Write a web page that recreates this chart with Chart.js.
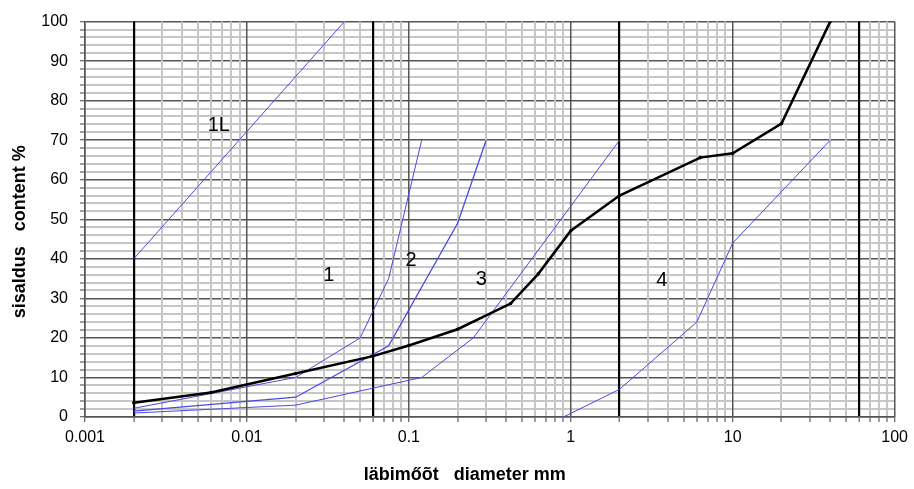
<!DOCTYPE html>
<html>
<head>
<meta charset="utf-8">
<script src="https://cdn.jsdelivr.net/npm/chart.js@4/dist/chart.umd.min.js"></script>
<style>
  html, body { margin: 0; padding: 0; background: #ffffff; }
  #wrap { width: 914px; height: 489px; }
</style>
</head>
<body>
<div id="wrap"><canvas id="c" width="914" height="489"></canvas></div>
<script>
// ---------------- data ----------------
const curveDiameter = [0.002, 0.006, 0.02, 0.06, 0.1, 0.2, 0.425, 0.63, 1, 2, 6.3, 10, 20, 40];
const curvePassing  = [3.6, 6.2, 11, 15.4, 18.1, 22.2, 28.7, 36.2, 47.1, 56, 65.6, 66.7, 74.2, 100];

const line1LDiameter = [0.002, 0.04];
const line1LPassing  = [40, 100];

const bound1Diameter = [0.002, 0.02, 0.05, 0.075, 0.12];
const bound1Passing  = [2.2, 10, 20, 35, 70];

const bound2Diameter = [0.002, 0.02, 0.075, 0.2, 0.3];
const bound2Passing  = [1.5, 5, 18, 49, 70];

const bound3Diameter = [0.002, 0.02, 0.12, 0.25, 2];
const bound3Passing  = [1.0, 3, 10, 20, 70];

const bound4Diameter = [0.9, 2, 6, 10, 40];
const bound4Passing  = [0, 7, 24, 44, 70];

const zoneLabels   = ['1L', '1', '2', '3', '4'];
const zoneLabelX   = [0.0067, 0.032, 0.103, 0.28, 3.65];
const zoneLabelY   = [73.8, 35.7, 39.5, 34.7, 34.5];

const xDecades     = [0.001, 0.01, 0.1, 1, 10, 100];
const xTickLabels  = ['0.001', '0.01', '0.1', '1', '10', '100'];
const xBoundaries  = [0.002, 0.06, 2, 60];
const yMajorStep   = 10;
const yMinorStep   = 2;

const xTitle = 'läbimőõt   diameter mm';
const yTitle = 'sisaldus   content %';

// ---------------- helpers ----------------
function pts(xs, ys) { return xs.map((x, i) => ({ x: x, y: ys[i] })); }
function near(a, b) { return Math.abs(Math.log10(a) - Math.log10(b)) < 1e-6; }
function isDecade(v) { return xDecades.some(d => near(d, v)); }
function isBoundary(v) { return xBoundaries.some(d => near(d, v)); }

// grid values 1..9 x 10^k between the decades
const xGridValues = [];
for (let k = 0; k < xDecades.length - 1; k++) {
  for (let m = 1; m <= 9; m++) xGridValues.push(+(m * xDecades[k]).toPrecision(6));
}
xGridValues.push(xDecades[xDecades.length - 1]);

const FONT = "'Liberation Sans', Arial, sans-serif";
const BLUE = '#4a4ae0';
const MINOR = '#c6c6c6';
const MAJOR = '#555555';

const zoneLabelPlugin = {
  id: 'zoneLabels',
  afterDatasetsDraw(chart) {
    const { ctx, scales } = chart;
    ctx.save();
    ctx.fillStyle = '#000';
    ctx.font = '20px ' + FONT;
    ctx.textAlign = 'center';
    ctx.textBaseline = 'middle';
    zoneLabels.forEach((t, i) => {
      ctx.fillText(t, scales.x.getPixelForValue(zoneLabelX[i]), scales.y.getPixelForValue(zoneLabelY[i]));
    });
    ctx.restore();
  }
};

const blueSet = (label, xs, ys, w) => ({
  label: label,
  data: pts(xs, ys),
  borderColor: BLUE,
  borderWidth: w,
  pointRadius: 0,
  fill: false,
  tension: 0,
  order: 2
});

new Chart(document.getElementById('c'), {
  type: 'line',
  data: {
    datasets: [
      blueSet('1L', line1LDiameter, line1LPassing, 1),
      blueSet('1', bound1Diameter, bound1Passing, 1),
      blueSet('2', bound2Diameter, bound2Passing, 1.3),
      blueSet('3', bound3Diameter, bound3Passing, 1),
      blueSet('4', bound4Diameter, bound4Passing, 1),
      {
        label: 'curve',
        data: pts(curveDiameter, curvePassing),
        borderColor: '#000',
        backgroundColor: '#000',
        borderWidth: 2.5,
        pointRadius: 1.8,
        pointBorderWidth: 0,
        pointStyle: 'circle',
        fill: false,
        tension: 0,
        order: 1
      }
    ]
  },
  options: {
    responsive: false,
    animation: false,
    devicePixelRatio: 1,
    layout: { padding: { top: 17, right: 15, left: 0, bottom: 0 } },
    plugins: {
      legend: { display: false },
      tooltip: { enabled: false },
      title: { display: false }
    },
    scales: {
      y: {
        type: 'linear',
        position: 'left',
        min: 0,
        max: 100,
        afterFit: s => { s.width = 85; },
        ticks: {
          stepSize: yMinorStep,
          autoSkip: false,
          padding: 12,
          color: '#000',
          font: { family: FONT, size: 16 },
          callback: v => (v % yMajorStep === 0 ? String(v) : '')
        },
        grid: {
          z: -1,
          color: c => (c.tick && c.tick.value % yMajorStep === 0 ? MAJOR : MINOR),
          lineWidth: c => (c.tick && c.tick.value % yMajorStep === 0 ? 1.5 : 2),
          tickLength: 5,
          tickColor: '#404040',
          tickWidth: 1
        },
        border: { color: MAJOR, width: 1.5 },
        title: {
          display: true,
          text: yTitle + '     ',
          color: '#000',
          font: { family: FONT, size: 18, weight: 'bold' },
          padding: { top: 9, bottom: 0 }
        }
      },
      x: {
        type: 'logarithmic',
        position: 'bottom',
        min: 0.001,
        max: 100,
        afterFit: s => { s.height = 72; },
        afterBuildTicks: s => { s.ticks = xGridValues.map(v => ({ value: v, major: isDecade(v) })); },
        ticks: {
          autoSkip: false,
          maxRotation: 0,
          minRotation: 0,
          padding: 6,
          color: '#000',
          font: { family: FONT, size: 16 },
          callback: function (v) {
            const i = xDecades.findIndex(d => near(d, v));
            return i >= 0 ? xTickLabels[i] : '';
          }
        },
        grid: {
          color: c => {
            const v = c.tick ? c.tick.value : 1;
            if (isBoundary(v)) return '#000';
            return isDecade(v) ? MAJOR : MINOR;
          },
          lineWidth: c => {
            const v = c.tick ? c.tick.value : 1;
            if (isBoundary(v)) return 2.2;
            return isDecade(v) ? 1.5 : 2;
          },
          tickLength: 5,
          tickColor: '#404040',
          tickWidth: 1
        },
        border: { color: MAJOR, width: 1.5 },
        title: {
          display: true,
          text: xTitle + '          ',
          color: '#000',
          font: { family: FONT, size: 18, weight: 'bold' },
          padding: { top: 0, bottom: 3 }
        }
      }
    }
  },
  plugins: [zoneLabelPlugin]
});
</script>
</body>
</html>
